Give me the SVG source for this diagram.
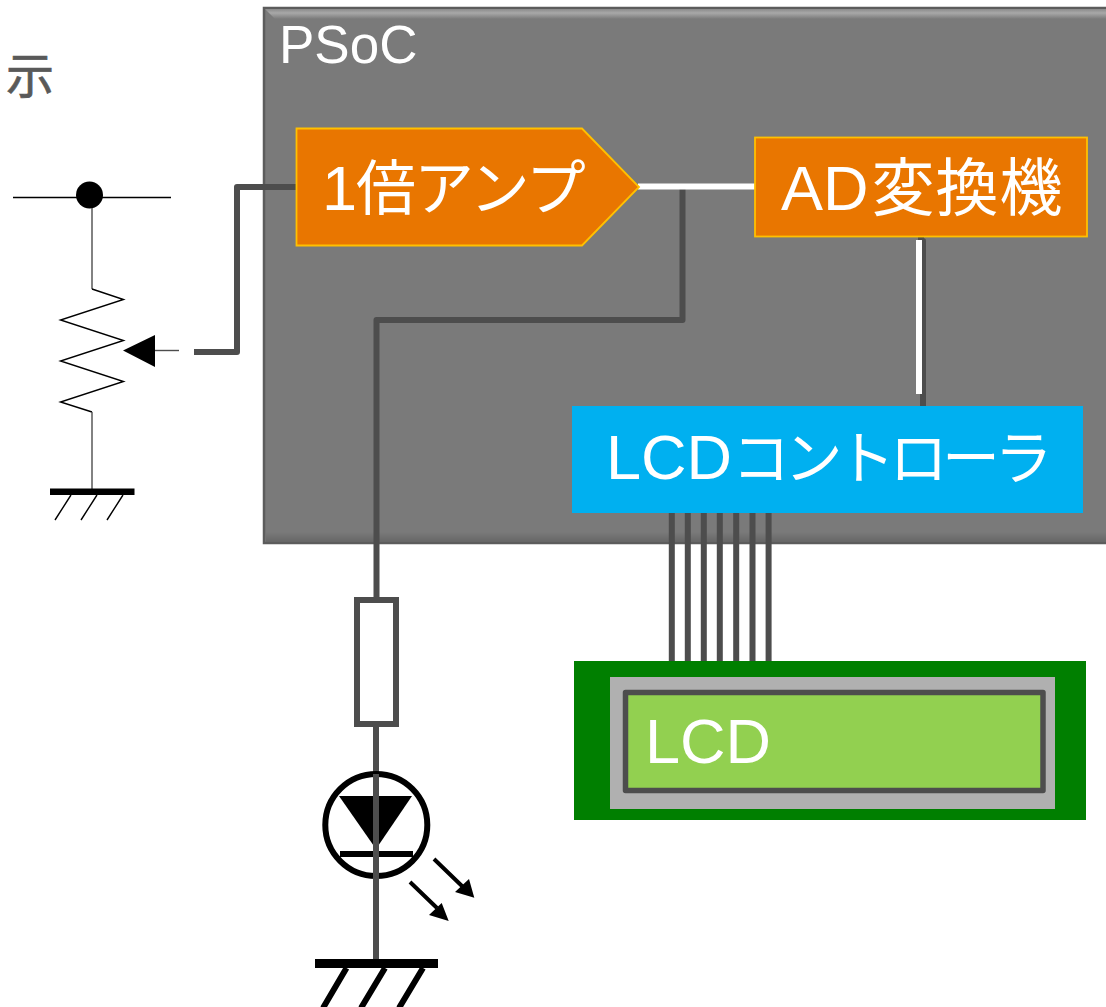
<svg xmlns="http://www.w3.org/2000/svg" width="1106" height="1007" viewBox="0 0 1106 1007">
<defs>
<style>
text{font-family:"Liberation Sans","Noto Sans CJK JP",sans-serif;fill:#fff}
.w{fill:none;stroke:#4d4d4d;stroke-width:6;stroke-linejoin:round}
.wt{fill:none;stroke:#fff;stroke-width:6}
.thin{fill:none;stroke:#000;stroke-width:1.4}
.gr{fill:none;stroke:#4d4d4d;stroke-width:1.4}
.blk{fill:none;stroke:#000;stroke-width:6}
.org{fill:#e97600;stroke:#ffc000;stroke-width:1.8}
.big{font-size:63px}
</style>
<linearGradient id="bevT" x1="0" y1="0" x2="0" y2="1"><stop offset="0" stop-color="#8a8a8a"/><stop offset=".4" stop-color="#a8a8a8"/><stop offset="1" stop-color="#7a7a7a"/></linearGradient>
<linearGradient id="bevB" x1="0" y1="0" x2="0" y2="1"><stop offset="0" stop-color="#7a7a7a"/><stop offset="1" stop-color="#666"/></linearGradient>
</defs>
<rect width="1106" height="1007" fill="#fff"/>
<g id="label-fragment"><text x="6" y="93" font-size="48" stroke="#595959" stroke-width=".7" style="fill:#595959">示</text></g>
<g id="psoc">
<rect x="264" y="8" width="845" height="535" fill="#7a7a7a" stroke="#5c5c5c" stroke-width="2.500"/>
<path d="M265 9H1108V19H275Z" fill="url(#bevT)"/>
<rect x="266" y="532" width="842" height="10" fill="url(#bevB)"/>
<text x="279" y="63" font-size="53">PSoC</text>
</g>
<g id="connectors">
<path class="w" d="M297 187H237V352H194"/>
<path class="w" d="M682.500 189V320H376.500V600"/>
<path class="wt" d="M638 186.500H755"/>
<path class="w" d="M921 236V241L923 241V408"/>
<path class="wt" d="M919 240V394"/>
<path class="w" d="M671.800 513V662M687.800 513V662M703.800 513V662M719.800 513V662M736.200 513V662M752.500 513V662M768.600 513V662"/>
</g>
<g id="amp">
<path class="org" d="M296.500 128.500H582L639 187L582 245.500H296.500Z"/>
<text x="322" y="210" class="big"><tspan>1</tspan><tspan dx="-1" letter-spacing="-2" style="font-size:60px">倍アンプ</tspan></text>
</g>
<g id="adc">
<rect class="org" x="755" y="137.500" width="332" height="99"/>
<text x="781" y="210" class="big"><tspan>AD</tspan><tspan dx="3" letter-spacing="1">変換機</tspan></text>
</g>
<g id="lcd-controller">
<rect x="572" y="406" width="511" height="107" fill="#00b0f0"/>
<text x="606" y="479" class="big"><tspan>LCD</tspan><tspan x="732" style="font-size:58px" letter-spacing="-5.500">コントローラ</tspan></text>
</g>
<g id="lcd">
<rect x="574" y="661" width="512" height="159" fill="#007f00"/>
<rect x="610" y="677" width="445" height="132" fill="#b0b0b0"/>
<rect x="625.500" y="692.500" width="417.500" height="98" fill="#92d050" stroke="#4d4d4d" stroke-width="5.500" stroke-linejoin="round"/>
<text x="645" y="763" class="big">LCD</text>
</g>
<g id="pot">
<path class="thin" d="M13 197.500H171"/>
<circle cx="89.500" cy="195" r="13.500" fill="#000"/>
<path class="gr" d="M92 208V289"/>
<path class="thin" d="M92 289L123.500 299.500L60.500 320L123.500 340.500L60.500 361L123.500 381.500L60.500 402L92 412"/>
<path class="gr" d="M92 412V489"/>
<path d="M50 488.500H134.500V495H50Z" fill="#000"/>
<path class="thin" d="M71 495L55 520M97 495L81 520M123 495L107 520"/>
<path d="M123 350.500L155 335V367Z" fill="#000"/>
<path class="gr" d="M155 350.500H179"/>
</g>
<g id="resistor"><rect x="357" y="600" width="39" height="124" fill="#fff" stroke="#4d4d4d" stroke-width="6"/></g>
<g id="led">
<path d="M376 726V772" class="w"/>
<circle cx="376.300" cy="825" r="51" fill="#fff" stroke="#000" stroke-width="6"/>
<path d="M339 796H412L376 849Z" fill="#000"/>
<path d="M340 854H413" class="blk"/>
<path d="M376 774V962" class="w"/>
<path class="blk" style="stroke-width:4" d="M434 859L463 887M410 882L437 908"/>
<path d="M474.300 897.700L455 892L469 879ZM448.700 921L429 915L441.700 903Z" fill="#000"/>
</g>
<g id="ground">
<path d="M315 959H438V968H315Z" fill="#000"/>
<path class="blk" d="M346.500 968L323 1008M385 968L361 1008M423 968L399 1008"/>
</g>
</svg>
